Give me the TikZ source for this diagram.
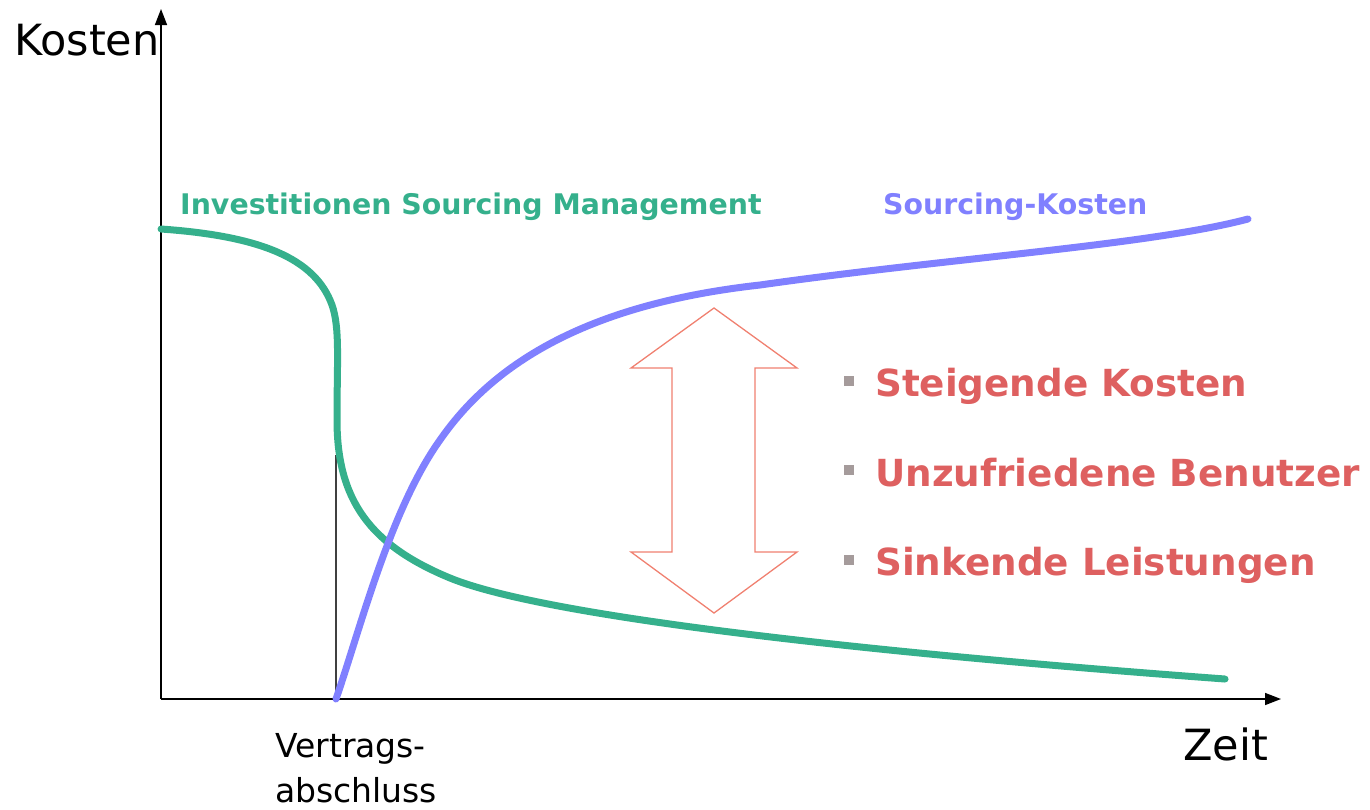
\documentclass[tikz,border=0pt]{standalone}
\usepackage{fontspec}
\setmainfont{DejaVu Sans}
\usetikzlibrary{arrows.meta}
\definecolor{invgreen}{RGB}{53,176,140}
\definecolor{srcblue}{RGB}{128,128,255}
\definecolor{txtred}{RGB}{222,96,96}
\definecolor{arrred}{RGB}{240,128,112}
\definecolor{bulgray}{RGB}{165,155,155}
\tikzset{
  axis/.style={line width=1.5pt, black, -{Triangle[length=16pt,width=12pt]}},
  curve/.style={line width=7pt, line cap=round},
  axlabel/.style={inner sep=0pt, anchor=base west, font=\fontsize{43}{51}\selectfont},
  item/.style={inner sep=0pt, anchor=base west, text=txtred, font=\fontsize{37.3}{44}\selectfont\bfseries},
  bul/.style={fill=bulgray, minimum size=10pt, inner sep=0pt},
  curvelabel/.style={inner sep=0pt, anchor=base west, font=\fontsize{28.4}{34}\selectfont\bfseries}
}
\begin{document}
\begin{tikzpicture}[x=1pt,y=-1pt]
\useasboundingbox (0,0) rectangle (1370,809);
\coordinate (O) at (161,699);
\coordinate (Ytop) at (161,9);
\coordinate (Xend) at (1281,699);
\coordinate (V0) at (336,699);
\coordinate (V1) at (336,455);
% axes
\draw[axis] (O) -- (Ytop);
\draw[axis] (O) -- (Xend);
\draw[line width=1.2pt, black!75] (V0) -- (V1);
% curves
\draw[curve, invgreen] (161,229) .. controls (260,236) and (315,258) .. (332,305)
  .. controls (340,328) and (337,360) .. (337,420)
  .. controls (337,500) and (370,545) .. (450,578)
  .. controls (550,619) and (900,655) .. (1225,679);
\draw[curve, srcblue] (336,699) .. controls (360,630) and (390,510) .. (440,440)
  .. controls (490,368) and (580,305) .. (760,285)
  .. controls (950,258) and (1150,245) .. (1248,219);
% double arrow
\draw[arrred, line width=1.3pt, line join=miter]
 (714,308) -- (797,368) -- (755,368) -- (755,552) -- (797,552) -- (714,613)
 -- (631,552) -- (672,552) -- (672,368) -- (631,368) -- cycle;
% labels
\node[axlabel] (kosten) at (14,55) {Kosten};
\node[axlabel] (zeit) at (1183,760) {Zeit};
\node[inner sep=0pt, anchor=base west, font=\fontsize{33}{40}\selectfont] (v1) at (275,757) {Vertrags-};
\node[inner sep=0pt, anchor=base west, font=\fontsize{33}{40}\selectfont] (v2) at (275,802) {abschluss};
\node[curvelabel, text=invgreen] (inv) at (180,214) {Investitionen Sourcing Management};
\node[curvelabel, text=srcblue] (src) at (883,214) {Sourcing-Kosten};
% bullet list
\node[bul] (b1) at (849,381) {};
\node[bul] (b2) at (849,470) {};
\node[bul] (b3) at (849,560) {};
\node[item] (t1) at (875,396) {Steigende Kosten};
\node[item] (t2) at (875,486) {Unzufriedene Benutzer};
\node[item] (t3) at (875,575) {Sinkende Leistungen};
\end{tikzpicture}
\end{document}
